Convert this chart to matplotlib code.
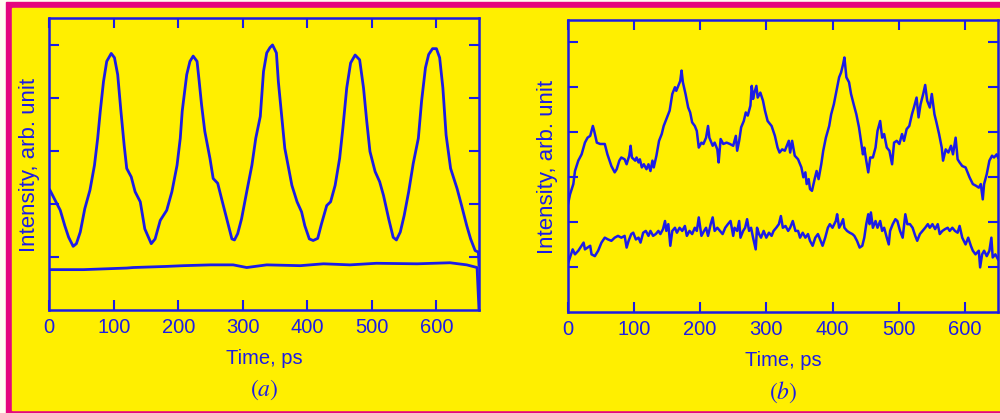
import matplotlib as mpl
mpl.use('Agg')
import matplotlib.pyplot as plt
from matplotlib.patches import Rectangle

plt.rcParams['font.family'] = ['Liberation Sans', 'DejaVu Sans']
plt.rcParams['mathtext.fontset'] = 'stix'

# (a) upper trace: pulses, lower trace: background
time_a_top = [1, 9, 17, 24, 30, 37, 42, 48, 55, 63, 70, 75, 79, 84, 89, 96, 101, 106, 111, 116,
              120, 127, 133, 141, 148, 158, 164, 172, 182, 190, 198, 203, 206, 213, 218, 223, 229, 232, 236, 241,
              249, 254, 261, 267, 275, 283, 287, 292, 298, 306, 314, 320, 327, 332, 337, 342, 346, 352, 355, 360,
              365, 371, 376, 384, 391, 396, 403, 409, 416, 422, 430, 436, 443, 450, 455, 461, 467, 474, 481, 487,
              492, 497, 505, 512, 518, 526, 533, 538, 544, 550, 557, 564, 572, 577, 583, 588, 594, 600, 605, 610,
              615, 622, 632, 639, 647, 653, 660, 665, 666]
int_a_top = [2.26, 2.07, 1.88, 1.59, 1.37, 1.20, 1.25, 1.47, 1.91, 2.26, 2.73, 3.24, 3.75, 4.31, 4.69, 4.84, 4.76, 4.44, 3.75, 3.11,
             2.67, 2.51, 2.23, 2.04, 1.53, 1.25, 1.34, 1.69, 1.88, 2.23, 2.73, 3.24, 3.75, 4.44, 4.69, 4.79, 4.69, 4.35, 3.87, 3.37,
             2.86, 2.48, 2.39, 2.10, 1.72, 1.34, 1.32, 1.44, 1.72, 2.23, 2.73, 3.24, 3.65, 4.50, 4.85, 4.95, 5.00, 4.85, 4.31, 3.68,
             3.05, 2.67, 2.35, 2.04, 1.85, 1.59, 1.34, 1.31, 1.35, 1.63, 1.97, 2.04, 2.35, 2.86, 3.43, 4.19, 4.66, 4.81, 4.72, 4.19,
             3.56, 2.99, 2.61, 2.42, 2.16, 1.72, 1.37, 1.32, 1.47, 1.78, 2.23, 2.76, 3.24, 3.94, 4.57, 4.82, 4.93, 4.93, 4.76, 4.19,
             3.30, 2.67, 2.29, 1.97, 1.59, 1.34, 1.12, 1.09, 0.85]
time_a_low = [1, 53, 120, 130, 180, 208, 250, 285, 306, 337, 389, 425, 466, 507, 570, 621, 647, 663, 666]
int_a_low = [0.76, 0.76, 0.79, 0.80, 0.82, 0.835, 0.85, 0.85, 0.80, 0.85, 0.835, 0.87, 0.85, 0.88, 0.87, 0.89, 0.85, 0.80, 0.0]

# (b)
time_b_top = [0, 3.5, 8.5, 11, 16, 21, 26, 30, 34, 38, 40, 44, 49, 56, 60, 66, 71, 74, 78, 81, 86, 89, 93, 95, 97, 102, 104,
              107, 109, 112, 115, 119, 122, 125, 128, 130, 134, 138, 142, 145, 149, 154, 158, 162, 164, 167, 170, 172, 174,
              178, 182, 185, 188, 192, 195, 198, 202, 205, 209, 212, 214, 219, 222, 226, 228, 231, 235, 240, 245, 250, 254,
              256, 259, 262, 266, 269, 272, 276, 278, 280, 282, 285, 287, 291, 295, 298, 302, 308, 313, 317, 320, 324, 328,
              331, 334, 336, 339, 343, 348, 353, 356, 359, 361, 364, 366, 369, 373, 376, 379, 383, 386, 390, 395, 398, 402,
              406, 410, 413, 416, 418, 421, 425, 428, 432, 436, 440, 443, 446, 448, 451, 454, 457, 461, 465, 468, 472, 475,
              478, 482, 486, 490, 493, 497, 501, 505, 508, 512, 516, 520, 523, 527, 530, 533, 537, 540, 543, 547, 550, 554,
              557, 561, 565, 567, 571, 575, 579, 582, 586, 589, 592, 596, 601, 607, 612, 617, 621, 624, 627, 629, 633, 637,
              641, 644, 648, 650]
int_b_top = [2.36, 2.61, 2.84, 3.13, 3.36, 3.50, 3.76, 3.87, 3.91, 4.13, 4.02, 3.76, 3.73, 3.73, 3.50, 3.24, 3.10, 3.17, 3.36,
             3.43, 3.39, 3.28, 3.47, 3.69, 3.43, 3.36, 3.43, 3.32, 3.39, 3.21, 3.28, 3.17, 3.28, 3.13, 3.36, 3.21, 3.47, 3.80,
             3.95, 4.13, 4.28, 4.47, 4.84, 4.99, 4.91, 5.02, 5.13, 5.36, 5.10, 4.84, 4.54, 4.43, 4.21, 4.13, 4.02, 3.65, 3.76,
             3.73, 3.87, 4.13, 3.87, 3.69, 3.76, 3.61, 3.32, 3.84, 3.73, 3.76, 3.73, 3.69, 3.91, 3.58, 3.80, 4.10, 4.24, 4.43,
             4.36, 4.58, 5.02, 4.73, 4.87, 5.02, 4.76, 4.87, 4.69, 4.47, 4.24, 4.13, 3.91, 3.65, 3.54, 3.61, 3.58, 3.69, 3.80,
             3.54, 3.80, 3.47, 3.39, 3.21, 2.99, 3.10, 2.84, 2.95, 2.73, 2.69, 2.95, 3.13, 2.95, 3.28, 3.58, 3.87, 4.13, 4.39,
             4.61, 4.91, 5.21, 5.32, 5.50, 5.65, 5.21, 5.10, 4.84, 4.61, 4.39, 4.10, 3.80, 3.50, 3.65, 3.36, 3.10, 3.43, 3.43,
             3.65, 4.02, 4.24, 3.87, 3.95, 3.65, 3.58, 3.28, 3.76, 3.80, 3.73, 3.95, 3.80, 4.06, 4.13, 4.39, 4.54, 4.76, 4.32,
             4.61, 4.84, 5.04, 4.69, 4.54, 4.84, 4.39, 4.21, 3.95, 3.65, 3.36, 3.61, 3.54, 3.69, 3.50, 3.87, 3.39, 3.32, 3.24,
             3.21, 2.99, 2.84, 2.80, 2.76, 2.84, 2.50, 2.84, 3.06, 3.36, 3.47, 3.43, 3.50, 3.43]
time_b_low = [0, 3.5, 7.5, 11, 16, 21, 24, 26, 30, 34, 36, 41, 46, 51, 56, 61, 66, 71, 76, 81, 86, 89, 92, 96, 99, 103, 107,
              110, 114, 118, 122, 125, 129, 133, 137, 140, 144, 147, 149, 152, 155, 158, 162, 165, 169, 173, 177, 180, 184,
              188, 192, 195, 198, 202, 206, 209, 212, 216, 219, 222, 226, 230, 234, 238, 242, 246, 250, 252, 256, 259, 261,
              265, 268, 271, 274, 277, 280, 284, 286, 289, 292, 296, 300, 304, 308, 311, 315, 319, 322, 325, 329, 333, 336,
              340, 344, 348, 351, 355, 359, 363, 366, 370, 374, 378, 382, 385, 389, 393, 396, 400, 405, 407, 410, 413, 416,
              418, 422, 426, 430, 433, 437, 441, 445, 448, 451, 454, 456, 458, 461, 465, 468, 472, 475, 478, 482, 485, 487,
              491, 495, 498, 502, 506, 510, 513, 517, 521, 525, 528, 532, 536, 540, 544, 547, 551, 555, 559, 562, 566, 570,
              574, 577, 581, 585, 589, 592, 596, 601, 605, 609, 612, 616, 621, 623, 626, 629, 633, 637, 640, 642, 646, 650]
int_b_low = [1.06, 1.21, 1.39, 1.28, 1.36, 1.47, 1.54, 1.39, 1.43, 1.47, 1.28, 1.24, 1.36, 1.54, 1.65, 1.61, 1.58, 1.65, 1.69,
             1.65, 1.69, 1.43, 1.58, 1.73, 1.76, 1.61, 1.65, 1.54, 1.76, 1.80, 1.69, 1.80, 1.69, 1.73, 1.80, 1.73, 1.84, 2.02,
             1.80, 1.95, 1.47, 1.80, 1.87, 1.76, 1.87, 1.80, 1.91, 1.69, 1.80, 1.73, 1.87, 1.80, 2.10, 1.69, 1.80, 1.87, 1.69,
             1.95, 2.10, 1.80, 1.87, 1.80, 1.73, 1.87, 1.95, 2.02, 1.69, 1.87, 1.80, 2.02, 1.65, 1.80, 1.87, 2.06, 1.80, 1.87,
             1.65, 1.39, 1.87, 1.73, 1.65, 1.80, 1.65, 1.76, 1.69, 1.80, 1.87, 1.95, 2.13, 1.87, 1.91, 1.80, 1.87, 2.02, 1.80,
             1.80, 1.65, 1.76, 1.65, 1.73, 1.58, 1.47, 1.65, 1.73, 1.58, 1.47, 1.65, 1.87, 1.95, 1.87, 2.02, 2.17, 1.87, 1.95,
             2.06, 1.87, 1.80, 1.76, 1.73, 1.69, 1.58, 1.43, 1.47, 1.65, 1.95, 2.17, 1.95, 2.21, 1.87, 2.02, 1.87, 2.02, 1.80,
             1.87, 1.65, 1.50, 1.80, 1.95, 2.06, 2.02, 1.80, 1.65, 2.17, 1.95, 1.95, 1.87, 1.69, 1.58, 1.73, 1.80, 1.87, 1.95,
             1.87, 1.95, 1.84, 1.95, 1.73, 1.80, 1.84, 1.87, 1.80, 1.87, 1.80, 1.76, 1.91, 1.65, 1.50, 1.65, 1.47, 1.36, 1.28,
             1.36, 0.99, 1.28, 1.36, 1.24, 1.36, 1.65, 1.21, 1.28, 1.17]

xticks = [0, 100, 200, 300, 400, 500, 600]

assert len(time_a_top) == len(int_a_top)
assert len(time_a_low) == len(int_a_low)
assert len(time_b_top) == len(int_b_top)
assert len(time_b_low) == len(int_b_low)

blue = '#1c1ce6'
yellow = '#ffef00'
magenta = '#e5077d'

fig = plt.figure(figsize=(10, 4.14), dpi=100, facecolor='#fffff2')
# frame
fig.patches.append(Rectangle((0.006, 0.0), 1.0, 0.993, transform=fig.transFigure, color=magenta, zorder=-2))
fig.patches.append(Rectangle((0.012, 0.008), 1.0, 0.970, transform=fig.transFigure, color=yellow, zorder=-1))


def setup(ax, xmax, ymax, nyt, label):
    ax.set_facecolor(yellow)
    ax.set_xlim(0, xmax)
    ax.set_ylim(0, ymax)
    ax.set_xticks(xticks)
    ax.set_yticks(range(1, nyt + 1))
    ax.set_yticklabels([])
    ax.tick_params(direction='in', length=7, width=1.5, color=blue, labelcolor=blue,
                   top=True, right=True, labelsize=14.5, pad=5)
    for s in ax.spines.values():
        s.set_color(blue)
        s.set_linewidth(1.8)
    ax.text(-0.047, 0.5, 'Intensity, arb. unit', rotation=90, ha='center', va='center',
            transform=ax.transAxes, color=blue, fontsize=16)
    ax.text(0.5, -0.162, 'Time, ps', ha='center', va='center', transform=ax.transAxes,
            color=blue, fontsize=14.5)
    ax.text(0.5, -0.272, label, ha='center', va='center', transform=ax.transAxes,
            color=blue, fontsize=17)


ax1 = fig.add_axes([0.0493, 0.249, 0.4297, 0.704])
setup(ax1, 666, 5.5, 5, r'$(a)$')
ax1.plot(time_a_top, int_a_top, color=blue, lw=2)
ax1.plot(time_a_low, int_a_low, color=blue, lw=2)

ax2 = fig.add_axes([0.5677, 0.244, 0.4303, 0.705])
setup(ax2, 650, 6.48, 6, r'$(b)$')
ax2.plot(time_b_top, int_b_top, color=blue, lw=1.8)
ax2.plot(time_b_low, int_b_low, color=blue, lw=1.8)

plt.savefig('out.png', dpi=100, facecolor=fig.get_facecolor())
